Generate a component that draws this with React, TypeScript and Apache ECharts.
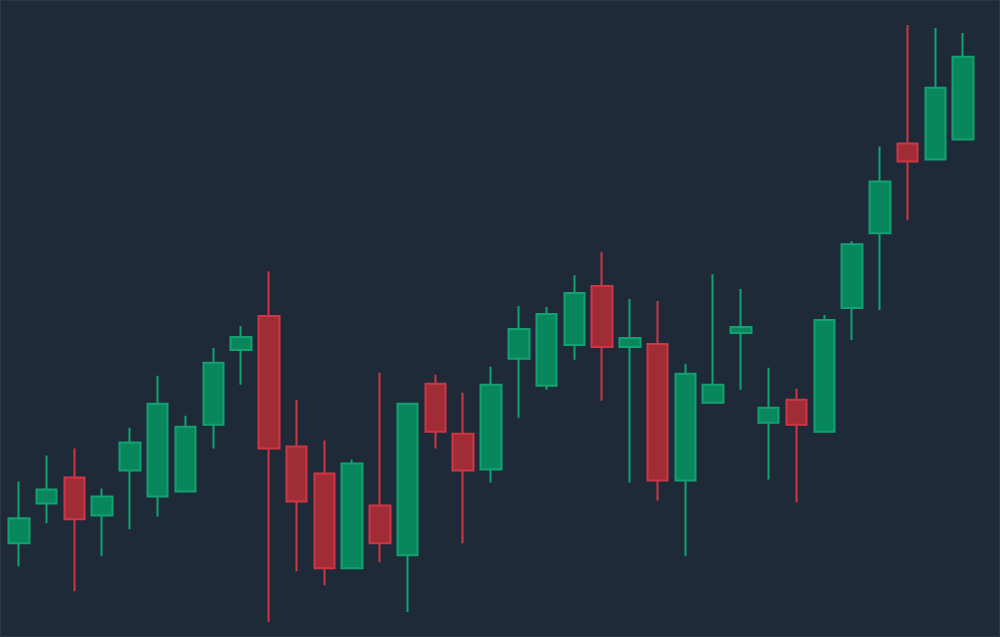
import React, { useEffect, useRef } from "react";
import * as echarts from "echarts";

const days: string[] = Array.from({ length: 35 }, (_, i) => `D${i + 1}`);
// [open, close, low, high]
const opens = [118.6, 126.6, 131.8, 124.2, 133.2, 128.0, 129.0, 142.4, 157.4, 164.2, 138.0, 132.6, 113.6, 126.2, 116.2, 150.6, 140.6, 133.4, 155.6, 150.2, 158.4, 170.2, 158.0, 158.6, 131.2, 146.8, 160.8, 142.8, 147.4, 141.0, 165.8, 180.8, 198.8, 195.6, 199.6];
const closes = [123.6, 129.4, 123.4, 128.0, 138.8, 146.6, 142.0, 154.8, 160.0, 137.6, 127.0, 113.6, 134.6, 118.6, 146.6, 141.0, 133.2, 150.4, 161.6, 164.6, 168.8, 158.0, 159.8, 131.2, 152.6, 150.4, 162.0, 145.8, 142.4, 163.4, 178.6, 191.2, 195.2, 210.0, 216.2];
const lows = [114.0, 122.6, 109.0, 116.0, 121.4, 124.0, 129.0, 137.6, 150.4, 102.8, 113.0, 110.2, 113.6, 114.8, 104.8, 137.6, 118.6, 130.8, 143.8, 149.4, 155.4, 147.2, 130.8, 127.2, 116.0, 146.8, 149.4, 131.4, 126.8, 141.0, 159.4, 165.4, 183.4, 195.6, 199.6];
const highs = [131.0, 136.2, 137.6, 129.6, 141.8, 152.2, 144.2, 157.8, 162.2, 173.2, 147.4, 139.2, 135.4, 152.8, 146.6, 152.4, 148.8, 154.0, 166.2, 166.0, 172.4, 177.0, 167.6, 167.2, 154.6, 172.6, 169.6, 153.8, 149.6, 164.4, 179.2, 198.2, 222.6, 222.0, 221.0];

const UP_FILL = "#08875d";
const UP_LINE = "#12a272";
const DOWN_FILL = "#a02c36";
const DOWN_LINE = "#cf3645";
const BG = "#1f2a38";

export default function App() {
  const ref = useRef<HTMLDivElement>(null);
  useEffect(() => {
    document.body.style.margin = "0";
    document.body.style.background = BG;
    if (!ref.current) return;
    const chart = echarts.init(ref.current, undefined, { renderer: "svg" });
    const data = days.map((_, i) => [opens[i], closes[i], lows[i], highs[i]]);
    chart.setOption({
      animation: false,
      backgroundColor: BG,
      grid: { left: 4, width: 972, top: 0, bottom: 0 },
      xAxis: {
        type: "category",
        data: days,
        boundaryGap: true,
        axisLine: { show: false },
        axisTick: { show: false },
        axisLabel: { show: false },
        splitLine: { show: false },
      },
      yAxis: {
        type: "value",
        min: 100,
        max: 227.4,
        scale: true,
        axisLine: { show: false },
        axisTick: { show: false },
        axisLabel: { show: false },
        splitLine: { show: false },
      },
      series: [
        {
          type: "candlestick",
          data,
          barWidth: 21,
          itemStyle: {
            color: UP_FILL,
            color0: DOWN_FILL,
            borderColor: UP_LINE,
            borderColor0: DOWN_LINE,
            borderWidth: 2,
          },
        },
      ],
    });
    return () => chart.dispose();
  }, []);
  return (
    <div
      ref={ref}
      style={{ width: 1000, height: 637, boxSizing: "border-box", border: "1px solid #2c3745", background: BG }}
    />
  );
}
